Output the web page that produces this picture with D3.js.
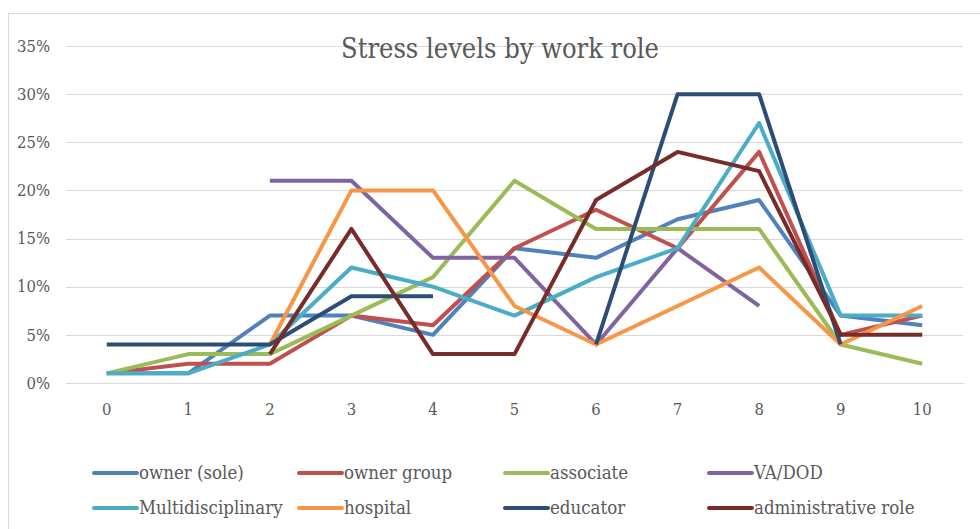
<!DOCTYPE html>
<html>
<head>
<meta charset="utf-8">
<script src="https://cdn.jsdelivr.net/npm/d3@7"></script>
<style>
  html, body { margin: 0; padding: 0; background: #fff; }
  svg { display: block; }
  text { font-family: "DejaVu Serif Condensed", "DejaVu Serif", serif; font-stretch: condensed; fill: #595959; }
</style>
</head>
<body>
<svg id="chart" width="980" height="529"></svg>
<script>
const title = "Stress levels by work role";
const categories = [0, 1, 2, 3, 4, 5, 6, 7, 8, 9, 10];
const yTicks = [0, 5, 10, 15, 20, 25, 30, 35];
const seriesNames = ["owner (sole)", "owner group", "associate", "VA/DOD",
                     "Multidisciplinary", "hospital", "educator", "administrative role"];
const seriesColors = ["#4F81BD", "#C0504D", "#9BBB59", "#8064A2",
                      "#4BACC6", "#F79646", "#2C4D75", "#772C2A"];
const ownerSole      = [1, 1, 7, 7, 5, 14, 13, 17, 19, 7, 6];
const ownerGroup     = [1, 2, 2, 7, 6, 14, 18, 14, 24, 5, 7];
const associate      = [1, 3, 3, 7, 11, 21, 16, 16, 16, 4, 2];
const vaDod          = [null, null, 21, 21, 13, 13, 4, 14, 8, null, null];
const multidisc      = [1, 1, 4, 12, 10, 7, 11, 14, 27, 7, 7];
const hospital       = [null, null, 4, 20, 20, 8, 4, 8, 12, 4, 8];
const educator       = [4, 4, 4, 9, 9, null, 4, 30, 30, 4, null];
const adminRole      = [null, null, 3, 16, 3, 3, 19, 24, 22, 5, 5];
const seriesValues = [ownerSole, ownerGroup, associate, vaDod, multidisc, hospital, educator, adminRole];

const svg = d3.select("#chart");

// chart frame
svg.append("rect").attr("x", 8.5).attr("y", 13.5).attr("width", 1000).attr("height", 600)
  .attr("fill", "none").attr("stroke", "#D9D9D9");

const plot = { left: 66, right: 963, top: 46, bottom: 383 };
const x = d3.scaleBand().domain(categories).range([plot.left, plot.right]);
const y = d3.scaleLinear().domain([0, 35]).range([plot.bottom, plot.top]);

// gridlines
svg.append("g").attr("transform", `translate(${plot.left},0)`)
  .call(d3.axisLeft(y).tickValues(yTicks).tickSize(-(plot.right - plot.left)).tickFormat(""))
  .call(g => g.select(".domain").remove())
  .call(g => g.selectAll("line").attr("stroke", "#D9D9D9").attr("shape-rendering", "crispEdges"));

// y labels
svg.append("g").attr("transform", `translate(${plot.left},0)`)
  .call(d3.axisLeft(y).tickValues(yTicks).tickSize(0).tickPadding(16).tickFormat(d => d + "%"))
  .call(g => g.select(".domain").remove())
  .call(g => g.selectAll("text").attr("font-size", 16.5).attr("font-family", null).style("fill", "#595959"));

// x labels
svg.append("g").attr("transform", `translate(0,${plot.bottom})`)
  .call(d3.axisBottom(x).tickSize(0).tickPadding(20))
  .call(g => g.select(".domain").attr("stroke", "#D9D9D9"))
  .call(g => g.selectAll("text").attr("font-size", 16.5).attr("font-family", null).style("fill", "#595959"));

// title
svg.append("text").attr("x", 500).attr("y", 58).attr("text-anchor", "middle")
  .attr("font-size", 27).text(title);

// lines
const line = d3.line()
  .defined(d => d != null)
  .x((d, i) => x(categories[i]) + x.bandwidth() / 2)
  .y(d => y(d));

seriesValues.forEach((vals, i) => {
  svg.append("path").datum(vals)
    .attr("fill", "none").attr("stroke", seriesColors[i])
    .attr("stroke-width", 4).attr("stroke-linejoin", "round")
    .attr("d", line);
});

// legend
const legendCols = [94, 299, 505, 709];
const legendRows = [473, 508];
seriesNames.forEach((name, i) => {
  const lx = legendCols[i % 4], ly = legendRows[Math.floor(i / 4)];
  svg.append("line").attr("x1", lx).attr("x2", lx + 43).attr("y1", ly).attr("y2", ly)
    .attr("stroke", seriesColors[i]).attr("stroke-width", 4).attr("stroke-linecap", "round");
  svg.append("text").attr("x", lx + 45).attr("y", ly).attr("dy", "0.35em")
    .attr("font-size", 18.5).text(name);
});
</script>
</body>
</html>
